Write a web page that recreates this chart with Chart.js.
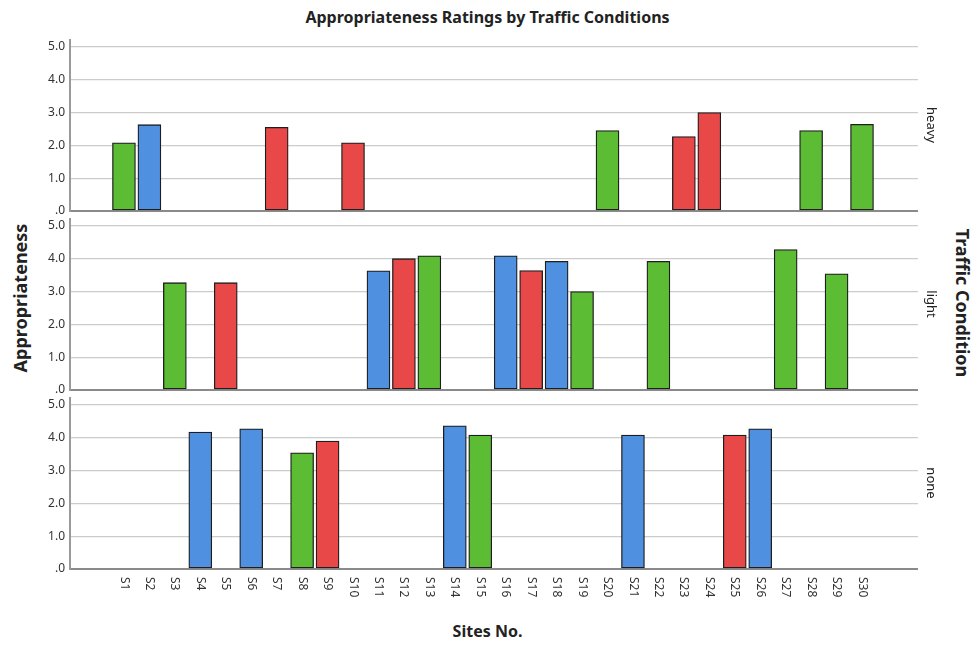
<!DOCTYPE html>
<html>
<head>
<meta charset="utf-8">
<script src="https://cdn.jsdelivr.net/npm/chart.js@4"></script>
<style>
  body { margin: 0; background: #fff; }
  #wrap { position: relative; width: 975px; height: 646px; background: #fff; overflow: hidden; font-family: "Noto Sans", sans-serif; color: #222; }
  canvas { position: absolute; left: 0; }
  .txt { position: absolute; font-weight: bold; white-space: nowrap; }
  #title { left: 0; width: 975px; top: 6px; text-align: center; font-size: 16px; }
  #ylab { left: 20px; top: 298px; font-size: 18px; transform: translate(-50%, -50%) rotate(-90deg); }
  #rlab { left: 963px; top: 303px; font-size: 18px; transform: translate(-50%, -50%) rotate(90deg); }
  #xlab { left: 0; width: 975px; top: 620px; text-align: center; font-size: 16px; }
</style>
</head>
<body>
<div id="wrap">
  <div id="title" class="txt">Appropriateness Ratings by Traffic Conditions</div>
  <div id="ylab" class="txt">Appropriateness</div>
  <div id="rlab" class="txt">Traffic Condition</div>
  <div id="xlab" class="txt">Sites No.</div>
  <canvas id="pHeavy" width="975" height="176" style="top:39px"></canvas>
  <canvas id="pLight" width="975" height="176" style="top:218px"></canvas>
  <canvas id="pNone" width="975" height="236" style="top:397px"></canvas>
</div>
<script>
// Data
const sites = ['S1','S2','S3','S4','S5','S6','S7','S8','S9','S10',
               'S11','S12','S13','S14','S15','S16','S17','S18','S19','S20',
               'S21','S22','S23','S24','S25','S26','S27','S28','S29','S30'];
const traffic = ['heavy','heavy','light','none','light','none','heavy','none','none','heavy',
                 'light','light','light','none','none','light','light','light','light','heavy',
                 'none','light','heavy','heavy','none','none','light','heavy','light','heavy'];
// colour group of each site's bar
const siteGroup = ['green','blue','green','blue','red','blue','red','green','red','red',
                   'blue','red','green','blue','green','blue','red','blue','green','green',
                   'blue','green','red','red','red','blue','green','green','green','green'];
const ratings = [2.08, 2.63, 3.27, 4.17, 3.27, 4.27, 2.55, 3.54, 3.90, 2.08,
                 3.63, 4.00, 4.09, 4.36, 4.08, 4.09, 3.64, 3.92, 3.00, 2.45,
                 4.08, 3.92, 2.27, 3.00, 4.08, 4.27, 4.28, 2.45, 3.54, 2.64];
const panels = ['heavy', 'light', 'none'];
const groups = ['green', 'blue', 'red'];
const yTicks = [0, 1, 2, 3, 4, 5];

const groupColors = { green: '#5cbd34', blue: '#5090e0', red: '#e84848' };
const FONT = '"Noto Sans", sans-serif';

Chart.defaults.font.family = FONT;
Chart.defaults.color = '#333';

// panel name at the right edge, rotated clockwise
const panelLabel = {
    id: 'panelLabel',
    afterDraw(chart, args, opts) {
        const { ctx, chartArea } = chart;
        ctx.save();
        ctx.translate(931, (chartArea.top + chartArea.bottom) / 2);
        ctx.rotate(Math.PI / 2);
        ctx.font = '13px ' + FONT;
        ctx.fillStyle = '#222';
        ctx.textAlign = 'center';
        ctx.textBaseline = 'middle';
        ctx.fillText(opts.text, 0, 0);
        ctx.restore();
    }
};

// site labels under the bottom panel, reading top to bottom
const siteLabels = {
    id: 'siteLabels',
    afterDraw(chart, args, opts) {
        if (!opts.show) return;
        const { ctx, chartArea } = chart;
        const xs = chart.scales.x;
        ctx.save();
        ctx.font = '12px ' + FONT;
        ctx.fillStyle = '#333';
        ctx.textAlign = 'left';
        ctx.textBaseline = 'middle';
        sites.forEach((s, i) => {
            ctx.save();
            ctx.translate(xs.getPixelForValue(i + 1), chartArea.bottom + 8);
            ctx.rotate(Math.PI / 2);
            ctx.fillText(s, 0, 0);
            ctx.restore();
        });
        ctx.restore();
    }
};

function makePanel(canvasId, panel, isBottom) {
    const datasets = groups.map(g => ({
        label: g,
        data: sites.map((s, i) => (traffic[i] === panel && siteGroup[i] === g) ? { x: i + 1, y: ratings[i] } : null)
                   .filter(p => p !== null),
        backgroundColor: groupColors[g],
        borderColor: '#1e1e1e',
        borderWidth: 1.3,
        borderSkipped: false,
        barThickness: 23,
        grouped: false
    }));

    return new Chart(document.getElementById(canvasId), {
        type: 'bar',
        data: { datasets },
        plugins: [panelLabel, siteLabels],
        options: {
            responsive: false,
            animation: false,
            layout: { padding: { left: 0, right: 57, top: 0, bottom: isBottom ? 64 : 4 } },
            scales: {
                x: {
                    type: 'linear',
                    min: -1.12,
                    max: 32.2,
                    offset: false,
                    display: false
                },
                y: {
                    min: 0,
                    max: 5.24,
                    afterBuildTicks: s => { s.ticks = yTicks.map(v => ({ value: v })); },
                    afterFit: s => { s.width = 70; s.paddingTop = 0; s.paddingBottom = 0; },
                    grid: {
                        color: c => c.tick && c.tick.value === 0 ? '#8a8a8a' : '#cccccc',
                        lineWidth: c => c.tick && c.tick.value === 0 ? 2 : 1.3,
                        drawTicks: false
                    },
                    border: { color: '#9a9a9a', width: 2 },
                    ticks: {
                        padding: 5,
                        color: '#333',
                        font: { size: 12 },
                        callback: v => v === 0 ? '.0' : v.toFixed(1)
                    }
                }
            },
            plugins: {
                legend: { display: false },
                tooltip: { enabled: false },
                panelLabel: { text: panel },
                siteLabels: { show: isBottom }
            }
        }
    });
}

makePanel('pHeavy', 'heavy', false);
makePanel('pLight', 'light', false);
makePanel('pNone', 'none', true);
</script>
</body>
</html>
